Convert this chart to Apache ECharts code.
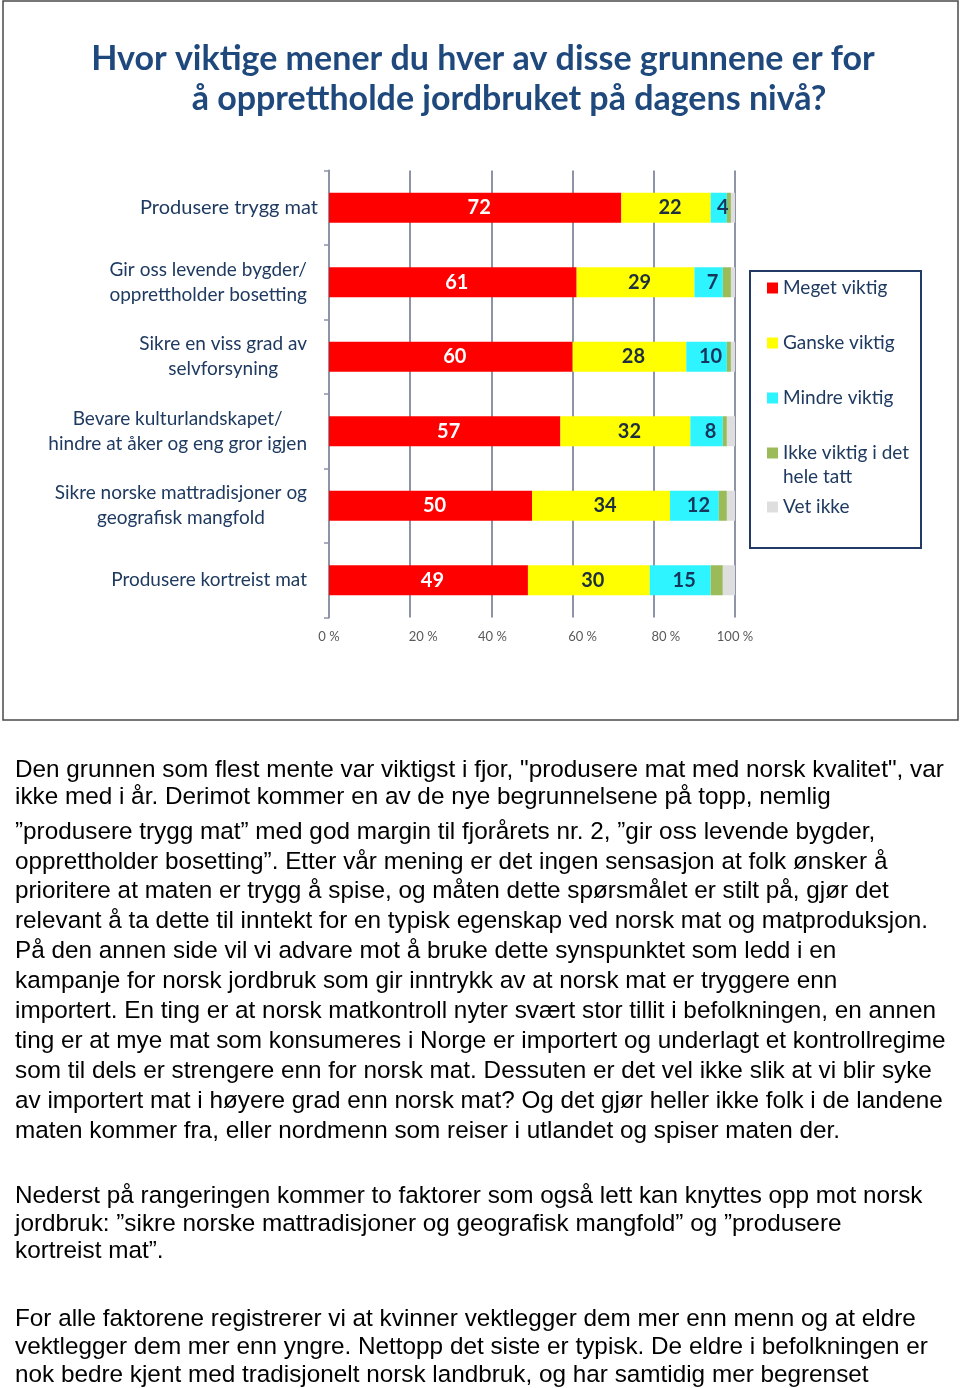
<!DOCTYPE html>
<html>
<head>
<meta charset="utf-8">
<script src="https://cdn.jsdelivr.net/npm/echarts@6/dist/echarts.min.js"></script>
<style>
html,body{margin:0;padding:0;background:#fff;}
#main{width:960px;height:1388px;}
</style>
</head>
<body>
<div id="main"></div>
<script>
// ---- data ----
const categories = [
  'Produsere trygg mat',
  'Gir oss levende bygder/\nopprettholder bosetting',
  'Sikre en viss grad av\nselvforsyning',
  'Bevare kulturlandskapet/\nhindre at åker og eng gror igjen',
  'Sikre norske mattradisjoner og\ngeografisk mangfold',
  'Produsere kortreist mat'
];
const seriesNames = ['Meget viktig', 'Ganske viktig', 'Mindre viktig', 'Ikke viktig i det\nhele tatt', 'Vet ikke'];
const meget = [72, 61, 60, 57, 50, 49];
const ganske = [22, 29, 28, 32, 34, 30];
const mindre = [4, 7, 10, 8, 12, 15];
const ikkeViktig = [1, 2, 1, 1, 2, 3];
const vetIkke = [1, 1, 1, 2, 2, 3];
const xTicks = [0, 20, 40, 60, 80, 100];

const titleLines = [
  'Hvor viktige mener du hver av disse grunnene er for',
  'å opprettholde jordbruket på dagens nivå?'
];
const para1a = [
  'Den grunnen som flest mente var viktigst i fjor, "produsere mat med norsk kvalitet", var',
  'ikke med i år. Derimot kommer en av de nye begrunnelsene på topp, nemlig'
];
const para1b = [
  '”produsere trygg mat” med god margin til fjorårets nr. 2, ”gir oss levende bygder,',
  'opprettholder bosetting”. Etter vår mening er det ingen sensasjon at folk ønsker å',
  'prioritere at maten er trygg å spise, og måten dette spørsmålet er stilt på, gjør det',
  'relevant å ta dette til inntekt for en typisk egenskap ved norsk mat og matproduksjon.',
  'På den annen side vil vi advare mot å bruke dette synspunktet som ledd i en',
  'kampanje for norsk jordbruk som gir inntrykk av at norsk mat er tryggere enn',
  'importert. En ting er at norsk matkontroll nyter svært stor tillit i befolkningen, en annen',
  'ting er at mye mat som konsumeres i Norge er importert og underlagt et kontrollregime',
  'som til dels er strengere enn for norsk mat. Dessuten er det vel ikke slik at vi blir syke',
  'av importert mat i høyere grad enn norsk mat? Og det gjør heller ikke folk i de landene',
  'maten kommer fra, eller nordmenn som reiser i utlandet og spiser maten der.'
];
const para2 = [
  'Nederst på rangeringen kommer to faktorer som også lett kan knyttes opp mot norsk',
  'jordbruk: ”sikre norske mattradisjoner og geografisk mangfold” og ”produsere',
  'kortreist mat”.'
];
const para3 = [
  'For alle faktorene registrerer vi at kvinner vektlegger dem mer enn menn og at eldre',
  'vektlegger dem mer enn yngre. Nettopp det siste er typisk. De eldre i befolkningen er',
  'nok bedre kjent med tradisjonelt norsk landbruk, og har samtidig mer begrenset'
];

// ---- styles ----
const FONT = 'Lato';
const NAVY = '#1f3a60';
const GRID = '#8e93a8';
const colors = ['#ff0000', '#ffff00', '#2ef4ff', '#9bbb59', '#dedede'];
const seriesData = [meget, ganske, mindre, ikkeViktig, vetIkke];
const labelColors = ['#ffffff', '#1e2f3f', '#16365c', null, null];

const xOffsets = {0: 0, 20: 13, 40: 1, 60: 10, 80: 12, 100: 0};
const xRich = {};
xTicks.forEach(v => {
  const o = xOffsets[v];
  xRich['t' + v] = {fontSize: 13, color: '#595959', fontFamily: FONT,
    padding: [0, o < 0 ? -2 * o : 0, 0, o > 0 ? 2 * o : 0]};
});

const series = seriesNames.map((name, i) => ({
  name: name,
  type: 'bar',
  stack: 'total',
  barWidth: 30,
  data: seriesData[i],
  itemStyle: {color: colors[i]},
  label: {
    show: labelColors[i] !== null,
    position: 'inside',
    offset: [4, 0],
    color: labelColors[i] || '#000',
    fontFamily: FONT,
    fontWeight: 'bold',
    fontSize: 20
  },
  emphasis: {disabled: true}
}));

const legendText = {fontFamily: FONT, fontSize: 19, color: NAVY, lineHeight: 24};
const legendCommon = {orient: 'vertical', left: 767, padding: 0, icon: 'rect', itemWidth: 11, itemHeight: 11,
  itemStyle: {borderWidth: 0}, textStyle: legendText, selectedMode: false};

function textBlock(lines, y, lh) {
  return {
    type: 'text', x: 15, y: y,
    style: {text: lines.join('\n'), font: '24.3px "Liberation Sans"', fill: '#000', lineHeight: lh, verticalAlign: 'top'}
  };
}

const option = {
  animation: false,
  title: {
    left: 'center', top: 34,
    text: '{a|' + titleLines[0] + '}\n{b|' + titleLines[1] + '}',
    textStyle: {
      rich: {
        a: {fontFamily: FONT, fontSize: 34, fontWeight: 'bold', color: '#1f497d', lineHeight: 40, align: 'center', padding: [0, 0, 0, 6]},
        b: {fontFamily: FONT, fontSize: 34, fontWeight: 'bold', color: '#1f497d', lineHeight: 40, align: 'center', padding: [0, 0, 0, 58]}
      }
    }
  },
  grid: {left: 329, right: 225, top: 170.5, bottom: 770.5, containLabel: false, outerBoundsMode: 'none'},
  xAxis: {
    type: 'value', min: 0, max: 100, interval: 20,
    axisLine: {show: false}, axisTick: {show: false},
    splitLine: {show: true, lineStyle: {color: GRID, width: 2}},
    axisLabel: {margin: 13, formatter: v => '{t' + v + '|' + v + ' %}', rich: xRich}
  },
  yAxis: {
    type: 'category', inverse: true, data: categories,
    axisLine: {show: true, lineStyle: {color: GRID, width: 2}},
    axisTick: {show: true, length: 5, lineStyle: {color: GRID, width: 1.5}},
    axisLabel: {
      margin: 11,
      formatter: (val, idx) => val.split('\n').map(l => '{' + (idx === 0 ? 'f' : 'c') + '|' + l + '}').join('\n'),
      rich: {
        f: {fontFamily: FONT, fontSize: 20, color: NAVY, lineHeight: 25, align: 'center'},
        c: {fontFamily: FONT, fontSize: 19, color: NAVY, lineHeight: 25, align: 'center', padding: [0, 11, 0, 0]}
      }
    }
  },
  legend: [
    Object.assign({}, legendCommon, {data: seriesNames.slice(0, 3), top: 276, itemGap: 31}),
    Object.assign({}, legendCommon, {data: [seriesNames[3]], top: 417,
      formatter: name => '\n' + name}),
    Object.assign({}, legendCommon, {data: [seriesNames[4]], top: 495})
  ],
  graphic: [
    {type: 'rect', shape: {x: 3, y: 1, width: 955, height: 719}, style: {fill: 'none', stroke: '#4a4a4a', lineWidth: 1.5}, silent: true, z: -1},
    {type: 'rect', shape: {x: 750, y: 271, width: 171, height: 277}, style: {fill: 'none', stroke: '#243a66', lineWidth: 2}, silent: true},
    textBlock(para1a, 756.5, 27),
    textBlock(para1b, 817, 29.9),
    textBlock(para2, 1183, 27.5),
    textBlock(para3, 1305, 28)
  ],
  series: series
};

const chart = echarts.init(document.getElementById('main'), null, {renderer: 'canvas'});
chart.setOption(option);
</script>
</body>
</html>
